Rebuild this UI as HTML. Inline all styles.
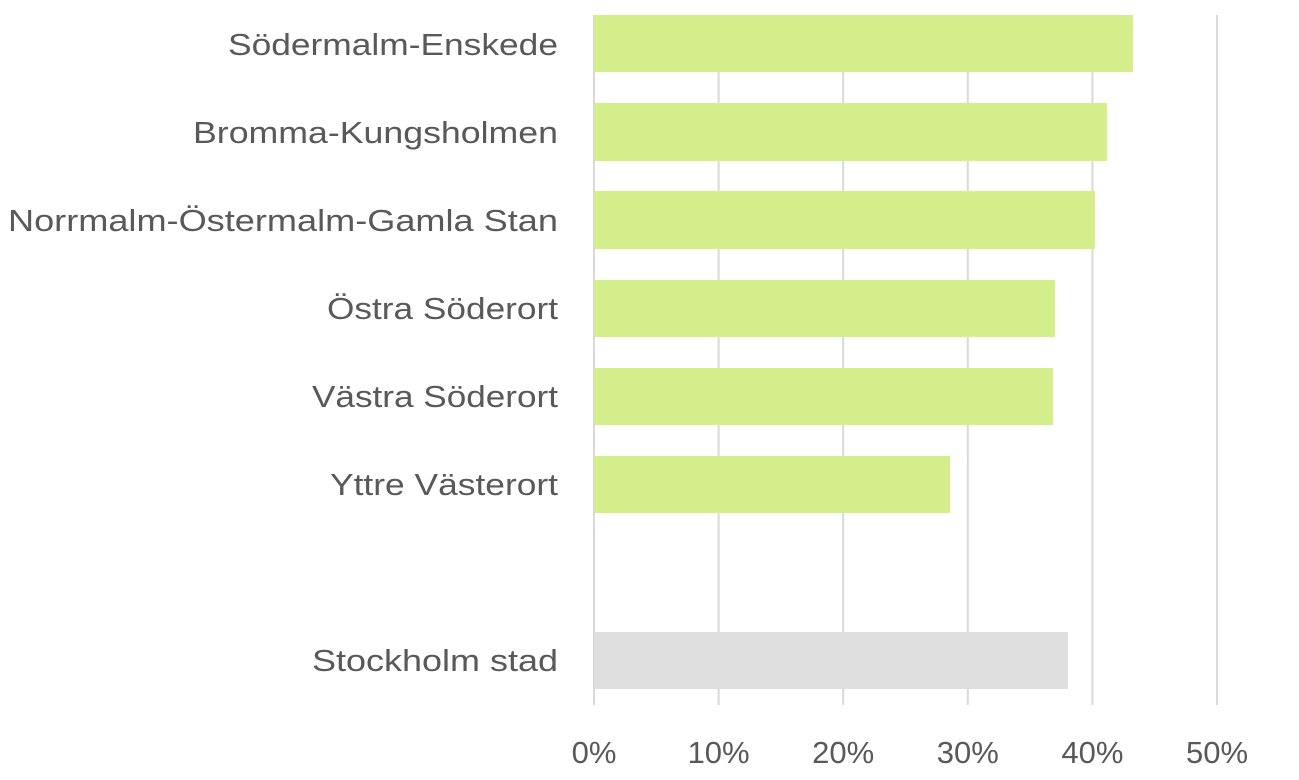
<!DOCTYPE html>
<html><head><meta charset="utf-8"><style>
html,body{margin:0;padding:0;background:#fff;}
svg{display:block;}
text{font-family:"Liberation Sans",sans-serif;fill:#595959;}
</style></head><body>
<svg width="1299" height="780" viewBox="0 0 1299 780">
<g stroke="#d9d9d9" stroke-width="2">
<line x1="594" y1="15" x2="594" y2="705"/>
<line x1="718.6" y1="15" x2="718.6" y2="705"/>
<line x1="843.2" y1="15" x2="843.2" y2="705"/>
<line x1="967.8" y1="15" x2="967.8" y2="705"/>
<line x1="1092.4" y1="15" x2="1092.4" y2="705"/>
<line x1="1217" y1="15" x2="1217" y2="705"/>
</g>
<g fill="#d3ee8a">
<rect x="594" y="15" width="539" height="57"/>
<rect x="594" y="103" width="513" height="58"/>
<rect x="594" y="191" width="501" height="58"/>
<rect x="594" y="280" width="461" height="57"/>
<rect x="594" y="368" width="459" height="57"/>
<rect x="594" y="456" width="356" height="57"/>
</g>
<rect x="594" y="632" width="474" height="57" fill="#dfdfdf"/>
<g font-size="31" lengthAdjust="spacingAndGlyphs">
<text x="228" y="55" textLength="330" lengthAdjust="spacingAndGlyphs">Södermalm-Enskede</text>
<text x="193" y="143" textLength="365" lengthAdjust="spacingAndGlyphs">Bromma-Kungsholmen</text>
<text x="8" y="231" textLength="550" lengthAdjust="spacingAndGlyphs">Norrmalm-Östermalm-Gamla Stan</text>
<text x="327" y="319" textLength="231" lengthAdjust="spacingAndGlyphs">Östra Söderort</text>
<text x="312" y="407" textLength="246" lengthAdjust="spacingAndGlyphs">Västra Söderort</text>
<text x="330" y="495" textLength="228" lengthAdjust="spacingAndGlyphs">Yttre Västerort</text>
<text x="312" y="671" textLength="246" lengthAdjust="spacingAndGlyphs">Stockholm stad</text>
</g>
<g font-size="31" text-anchor="middle">
<text x="594" y="763">0%</text>
<text x="718.6" y="763">10%</text>
<text x="843.2" y="763">20%</text>
<text x="967.8" y="763">30%</text>
<text x="1092.4" y="763">40%</text>
<text x="1217" y="763">50%</text>
</g>
</svg>
</body></html>
